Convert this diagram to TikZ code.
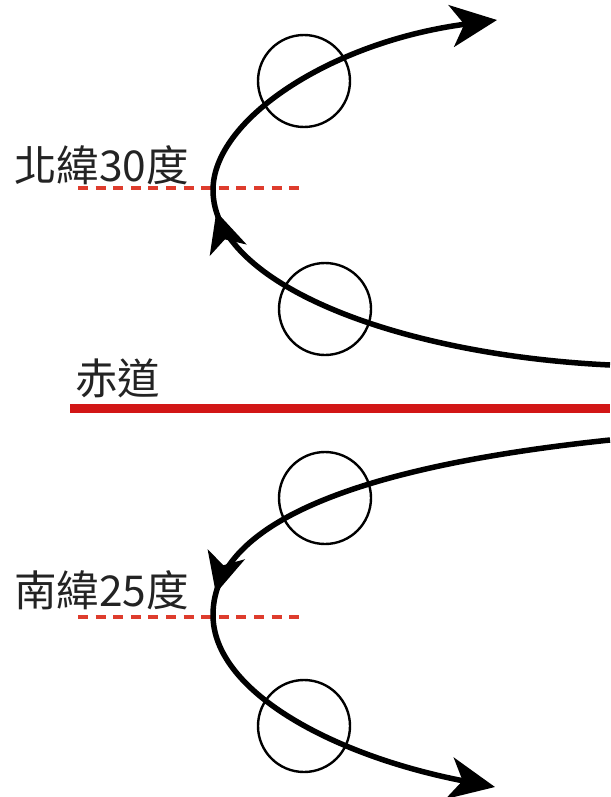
\documentclass[tikz,border=0pt]{standalone}
\usepackage{fontspec}
\newfontfamily\cjk{Noto Sans CJK TC}
\usetikzlibrary{arrows.meta,decorations.markings}
\definecolor{eqred}{RGB}{210,22,22}
\definecolor{latred}{RGB}{222,60,45}
\definecolor{txt}{RGB}{35,35,35}
\tikzset{
  track/.style={line width=5.5pt, black},
  endtip/.style={-{Stealth[length=46pt 0,width=42pt 0,inset=13pt 0]}},
  midtip/.style={postaction={decorate}, decoration={markings,
     mark=at position -22pt with {\arrow{Stealth[length=40pt 0,width=38pt 0,inset=11pt 0]}}}},
  ring/.style={draw=black, line width=2.4pt, circle, minimum size=92pt, inner sep=0pt},
  latline/.style={latred, line width=3.4pt, dash pattern=on 10pt off 7.6pt},
  equator/.style={eqred, line width=9pt},
  label/.style={font=\cjk\fontsize{42.5pt}{42.5pt}\selectfont, text=txt, inner sep=0pt, anchor=west}
}
\begin{document}
\begin{tikzpicture}[x=1pt,y=-1pt]
\useasboundingbox (0,0) rectangle (610,797);
% labels
\node[label] (n30) at (14,165) {北緯30度};
\node[label] (s25) at (14,590) {南緯25度};
\node[label] (eqt) at (75,378) {赤道};
% latitude dashed lines
\coordinate (nl1) at (78,188); \coordinate (nl2) at (306,188);
\coordinate (sl1) at (78,617); \coordinate (sl2) at (306,617);
\draw[latline] (nl1) -- (nl2);
\draw[latline] (sl1) -- (sl2);
% equator
\coordinate (eq1) at (70,408); \coordinate (eq2) at (610,408);
\draw[equator] (eq1) -- (eq2);
% circles
\node[ring] (c1) at (304,81) {};
\node[ring] (c2) at (325,309) {};
\node[ring] (c3) at (325,498) {};
\node[ring] (c4) at (304,726) {};
% north track
\coordinate (ns) at (610,365);
\coordinate (nv) at (213,190);
\coordinate (ne) at (497,20);
\draw[track, midtip] (ns) .. controls (400,355) and (213,285) .. (nv);
\draw[track, endtip] (nv) .. controls (213,120) and (330,42) .. (ne);
% south track
\coordinate (ss) at (610,440);
\coordinate (sv) at (213,615);
\coordinate (se) at (495,787);
\draw[track, midtip] (ss) .. controls (400,462) and (213,510) .. (sv);
\draw[track, endtip] (sv) .. controls (213,690) and (330,755) .. (se);
\end{tikzpicture}
\end{document}
